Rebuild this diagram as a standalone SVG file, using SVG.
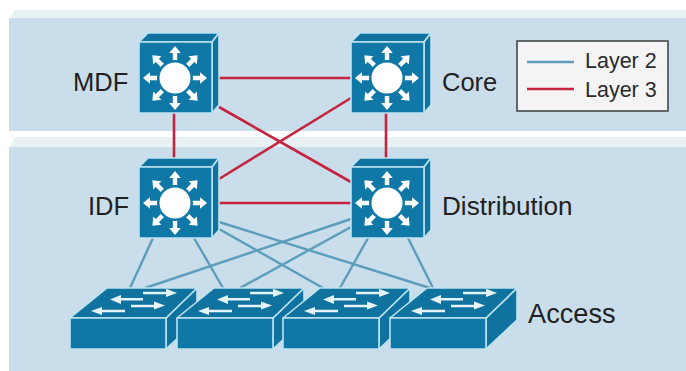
<svg xmlns="http://www.w3.org/2000/svg" xmlns:xlink="http://www.w3.org/1999/xlink" width="686" height="371" viewBox="0 0 686 371">
  <style>
    .band { fill: #c9deea; }
    .pale { fill: #e8f1f4; }
    .face { fill: #0f78a6; stroke: #bfe3f0; stroke-width: 1.6; stroke-linejoin: round; }
    .dark { fill: #0f729f; stroke: #bfe3f0; stroke-width: 1.6; stroke-linejoin: round; }
    .ar { fill: #ffffff; }
    .sa { fill: #e6f3f8; }
    .l2 { stroke: #5b9dbb; stroke-width: 2.4; fill: none; }
    .l3 { stroke: #c5233f; stroke-width: 2.6; fill: none; }
    .label { font-family: "Liberation Sans", Arial, sans-serif; font-size: 25.5px; fill: #231f20; }
    .legend { font-family: "Liberation Sans", Arial, sans-serif; font-size: 21.5px; fill: #2a2a2a; }
  </style>
  <defs>
    <path id="ray" class="ar" d="M-2.2,-14 L-2.2,-25 L-5.8,-25 L0,-32 L5.8,-25 L2.2,-25 L2.2,-14 Z"/>
    <g id="mls">
      <path class="dark" d="M139,42 L148,33 L219,33 L212,42 Z"/>
      <path class="dark" d="M212,42 L219,33 L219,105 L212,113 Z"/>
      <rect class="face" x="139" y="42" width="73" height="71"/>
      <g transform="translate(175,78)">
        <use href="#ray"/>
        <use href="#ray" transform="rotate(45)"/>
        <use href="#ray" transform="rotate(90)"/>
        <use href="#ray" transform="rotate(135)"/>
        <use href="#ray" transform="rotate(180)"/>
        <use href="#ray" transform="rotate(225)"/>
        <use href="#ray" transform="rotate(270)"/>
        <use href="#ray" transform="rotate(315)"/>
        <circle r="18" fill="#0f78a6"/>
        <circle r="15.5" fill="#ffffff"/>
      </g>
    </g>
    <g id="sw">
      <path class="dark" d="M166,318 L197,288 L197,320 L166,349 Z"/>
      <path class="dark" d="M70,318 L107,288 L197,288 L166,318 Z"/>
      <rect class="face" x="70" y="318" width="96" height="31"/>
      <path class="sa" d="M143,291.8 L166,291.8 L166,288.8 L177,293 L166,297 L166,294.2 L143,294.2 Z"/>
      <path class="sa" d="M143,298 L121,298 L121,295 L110,299.5 L121,304 L121,300.4 L143,300.4 Z"/>
      <path class="sa" d="M131,304.8 L154,304.8 L154,301.5 L165,305.5 L154,309.5 L154,307.2 L131,307.2 Z"/>
      <path class="sa" d="M125,309.8 L102,309.8 L102,307 L91,311 L102,315 L102,312.2 L125,312.2 Z"/>
    </g>
  </defs>

  <path class="pale" d="M9,20 L15,10 L686,10 L686,20 Z"/>
  <rect class="band" x="9" y="18" width="677" height="113"/>
  <path class="pale" d="M9,149 L15,137 L686,137 L686,149 Z"/>
  <rect class="band" x="9" y="147" width="677" height="224"/>

  <g id="connectors">
    <path class="l3" d="M212,78 L351,78"/>
    <path class="l3" d="M219,107 L351,182"/>
    <path class="l3" d="M219,179 L351,98"/>
    <path class="l3" d="M174,113 L174,158"/>
    <path class="l3" d="M386,113 L386,158"/>
    <path class="l3" d="M212,203 L351,203"/>
    <path class="l2" d="M153,238 L130,288"/>
    <path class="l2" d="M194,238 L223,288"/>
    <path class="l2" d="M219,222 L430,288"/>
    <path class="l2" d="M219,229 L323,288"/>
    <path class="l2" d="M351,219 L145,288"/>
    <path class="l2" d="M351,227 L240,288"/>
    <path class="l2" d="M368,238 L340,288"/>
    <path class="l2" d="M408,238 L433,288"/>
  </g>

  <g id="node-mdf"><use href="#mls"/><text class="label" x="73" y="91" font-size="25">MDF</text></g>
  <g id="node-core"><use href="#mls" transform="translate(212,0)"/><text class="label" x="442" y="91">Core</text></g>
  <g id="node-idf"><use href="#mls" transform="translate(0,125)"/><text class="label" x="88" y="215">IDF</text></g>
  <g id="node-distribution"><use href="#mls" transform="translate(212,125)"/><text class="label" x="442" y="215" style="font-size:26.1px">Distribution</text></g>

  <g id="node-access-1"><use href="#sw"/></g>
  <g id="node-access-2"><use href="#sw" transform="translate(107,0)"/></g>
  <g id="node-access-3"><use href="#sw" transform="translate(213,0)"/></g>
  <g id="node-access-4"><use href="#sw" transform="translate(320,0)"/></g>
  <text id="label-access" class="label" x="528" y="323" style="font-size:27.2px">Access</text>

  <g id="legend">
    <rect x="517" y="41" width="151" height="70" fill="#f5f4f4" stroke="#3a3f42" stroke-width="1.5"/>
    <path class="l2" d="M527,62 L574,62"/>
    <path class="l3" d="M527,89 L574,89"/>
    <text class="legend" x="585" y="68">Layer 2</text>
    <text class="legend" x="585" y="97">Layer 3</text>
  </g>
</svg>
